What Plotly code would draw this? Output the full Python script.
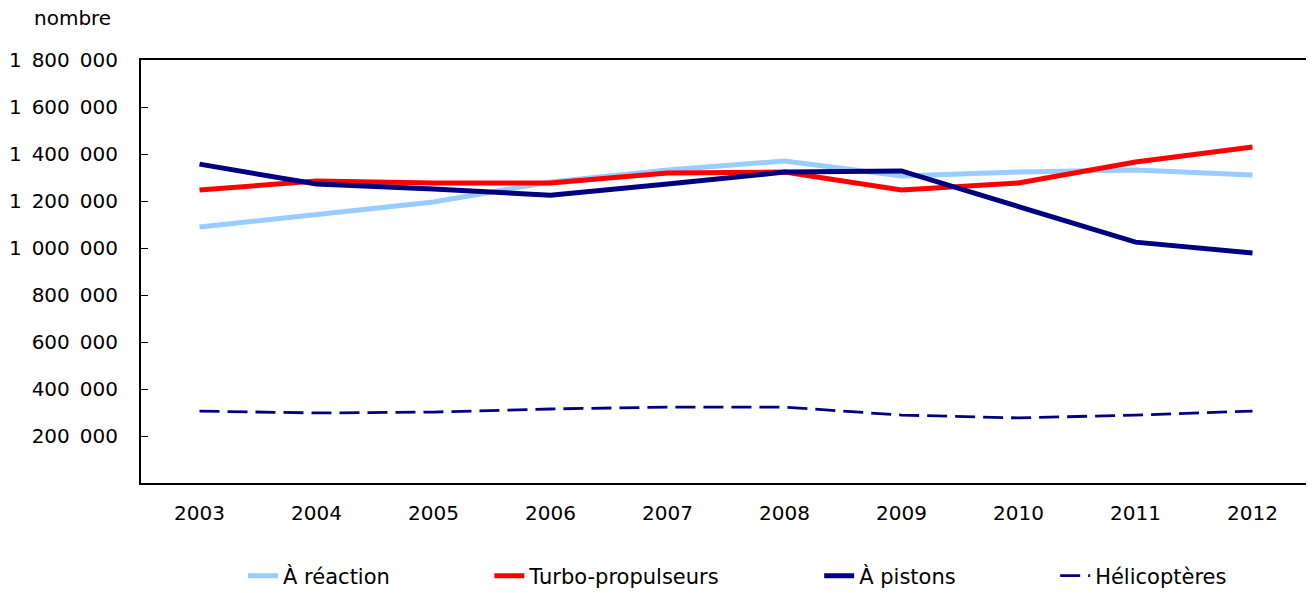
import plotly.graph_objects as go

years = ["2003", "2004", "2005", "2006", "2007", "2008", "2009", "2010", "2011", "2012"]
reaction = [1089000, 1145000, 1196000, 1281000, 1332000, 1370000, 1306000, 1323000, 1332000, 1311000]
turbo = [1247000, 1285000, 1277000, 1277000, 1319000, 1323000, 1247000, 1277000, 1366000, 1430000]
pistons = [1357000, 1272000, 1251000, 1225000, 1272000, 1323000, 1328000, 1179000, 1025000, 979000]
helicos = [306000, 298000, 302000, 315000, 323000, 323000, 289000, 277000, 289000, 306000]

y_ticks = [200000, 400000, 600000, 800000, 1000000, 1200000, 1400000, 1600000, 1800000]
y_labels = ["200\u2002000", "400\u2002000", "600\u2002000", "800\u2002000", "1\u2002000\u2002000",
            "1\u2002200\u2002000", "1\u2002400\u2002000", "1\u2002600\u2002000", "1\u2002800\u2002000"]

FONT = "DejaVu Sans"
PAD = "\u2003" * 4 + "\u2002"

fig = go.Figure()
fig.add_trace(go.Scatter(x=years, y=reaction, name="À réaction" + PAD, mode="lines",
                         line=dict(color="#99CCFF", width=5)))
fig.add_trace(go.Scatter(x=years, y=turbo, name="Turbo-propulseurs" + PAD, mode="lines",
                         line=dict(color="#FF0000", width=5)))
fig.add_trace(go.Scatter(x=years, y=pistons, name="À pistons" + PAD, mode="lines",
                         line=dict(color="#000080", width=5)))
fig.add_trace(go.Scatter(x=years, y=helicos, name="Hélicoptères", mode="lines",
                         line=dict(color="#000080", width=2.8, dash="20px,8px")))

fig.update_layout(
    width=1306, height=585,
    margin=dict(l=131, r=1, t=52, b=110),
    paper_bgcolor="white", plot_bgcolor="white",
    font=dict(family=FONT, size=20, color="#000000"),
    showlegend=True,
    legend=dict(orientation="h", xref="container", x=0.18, xanchor="left",
                yref="container", y=0.029, yanchor="middle",
                font=dict(family=FONT, size=21, color="#000000")),
    xaxis=dict(type="category", range=[-0.5, 9.5], showgrid=False,
               showline=True, linecolor="#000000", linewidth=2, mirror=True,
               ticks="", ticklabelstandoff=11,
               tickfont=dict(family=FONT, size=20, color="#000000")),
    yaxis=dict(range=[0, 1800000], tickmode="array", tickvals=y_ticks, ticktext=y_labels,
               showgrid=False, zeroline=False,
               showline=True, linecolor="#000000", linewidth=2, mirror=True,
               ticks="inside", ticklen=7, tickcolor="#000000", tickwidth=1,
               ticklabelstandoff=17,
               tickfont=dict(family=FONT, size=20, color="#000000")),
)

fig.add_annotation(text="nombre", xref="paper", yref="paper", x=-0.0588, y=1.0993,
                   xanchor="center", yanchor="middle", showarrow=False,
                   font=dict(family=FONT, size=20, color="#000000"))

fig.write_html("out.html")
